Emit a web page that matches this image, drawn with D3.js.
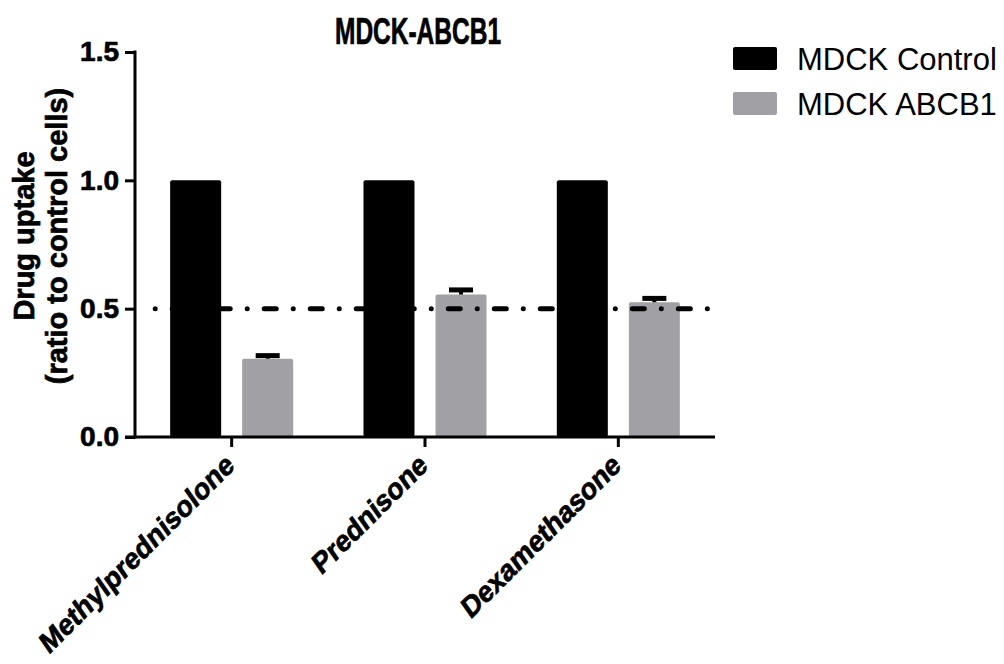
<!DOCTYPE html>
<html>
<head>
<meta charset="utf-8">
<script src="https://cdn.jsdelivr.net/npm/d3@7"></script>
<style>
  body { margin: 0; background: #fff; }
  text { font-family: "Liberation Sans", Arial, Helvetica, sans-serif; fill: #000; }
  .heavy { font-weight: bold; stroke: #000; stroke-width: 0.7px; }
</style>
</head>
<body>
<div id="myChart"></div>
<script>
// data
var drugs = ["Methylprednisolone", "Prednisone", "Dexamethasone"];
var seriesNames = ["MDCK Control", "MDCK ABCB1"];
var controlValues = [1.0, 1.0, 1.0];
var abcb1Values = [0.305, 0.555, 0.525];
var abcb1Errors = [0.012, 0.018, 0.015];
var yTicks = [0.0, 0.5, 1.0, 1.5];
var referenceLevel = 0.5;
var colors = ["#000000", "#a1a1a5"];

var width = 1004, height = 664;
var plot = { left: 135, right: 715, top: 52, bottom: 437 };

var svg = d3.select("#myChart").append("svg")
    .attr("width", width)
    .attr("height", height);

var x = d3.scaleBand().domain(drugs).range([plot.left, plot.right]);
var xInner = d3.scaleBand().domain(seriesNames)
    .range([0, x.bandwidth()])
    .paddingInner(0.2917)
    .paddingOuter(0.488);
var y = d3.scaleLinear().domain([0, 1.5]).range([plot.bottom, plot.top]);

var rows = drugs.map(function (d, i) {
    return { drug: d, values: [controlValues[i], abcb1Values[i]], err: abcb1Errors[i] };
});

// bars
var groups = svg.append("g").selectAll("g")
    .data(rows).join("g")
    .attr("transform", function (d) { return "translate(" + x(d.drug) + ",0)"; });

groups.selectAll("rect")
    .data(function (d) { return d.values.map(function (v, j) { return { s: seriesNames[j], v: v, j: j }; }); })
    .join("rect")
    .attr("x", function (d) { return xInner(d.s); })
    .attr("y", function (d) { return y(d.v); })
    .attr("width", xInner.bandwidth())
    .attr("height", function (d) { return y(0) - y(d.v); })
    .attr("rx", 2)
    .attr("fill", function (d) { return colors[d.j]; });

// error bars (upper only)
var cx = xInner("MDCK ABCB1") + xInner.bandwidth() / 2;
var errG = groups.append("g");
errG.append("line")
    .attr("x1", cx).attr("x2", cx)
    .attr("y1", function (d) { return y(d.values[1]); })
    .attr("y2", function (d) { return y(d.values[1] + d.err); })
    .attr("stroke", "#000").attr("stroke-width", 4);
errG.append("line")
    .attr("x1", cx - 12).attr("x2", cx + 12)
    .attr("y1", function (d) { return y(d.values[1] + d.err); })
    .attr("y2", function (d) { return y(d.values[1] + d.err); })
    .attr("stroke", "#000").attr("stroke-width", 5);

// dash-dot reference line
svg.append("line")
    .attr("x1", plot.left + 6)
    .attr("x2", plot.right - 3)
    .attr("y1", y(referenceLevel))
    .attr("y2", y(referenceLevel))
    .attr("stroke", "#000")
    .attr("stroke-width", 5)
    .attr("stroke-linecap", "round")
    .attr("stroke-dasharray", "12 17 0.01 17")
    .attr("stroke-dashoffset", 14.8);

// y axis
var yAxis = d3.axisLeft(y).tickValues(yTicks).tickFormat(d3.format(".1f")).tickSize(10).tickPadding(6);
var gy = svg.append("g")
    .attr("transform", "translate(" + plot.left + ",0)")
    .call(yAxis);
gy.select(".domain").attr("d", "M0," + (plot.top - 1.5) + "V" + (plot.bottom + 1.5))
    .attr("stroke-width", 3).attr("stroke", "#000");
gy.selectAll(".tick line").attr("stroke-width", 3).attr("stroke", "#000");
gy.selectAll(".tick text")
    .attr("class", "heavy")
    .attr("font-size", 28)
    .attr("font-family", "'Liberation Sans', Arial, sans-serif")
    .attr("fill", "#000");

// x axis
var xAxis = d3.axisBottom(x).tickSize(10).tickFormat("");
var gx = svg.append("g")
    .attr("transform", "translate(0," + plot.bottom + ")")
    .call(xAxis);
gx.select(".domain").attr("d", "M" + (plot.left - 10) + ",0H" + plot.right)
    .attr("stroke-width", 3).attr("stroke", "#000");
gx.selectAll(".tick line").attr("stroke-width", 3).attr("stroke", "#000");

gx.selectAll(".tick").append("text")
    .attr("class", "heavy")
    .attr("text-anchor", "end")
    .attr("transform", "translate(4,31) rotate(-45) skewX(-10)")
    .attr("font-size", 28)
    .attr("font-family", "'Liberation Sans', Arial, sans-serif")
    .attr("fill", "#000")
    .text(function (d) { return d; });

// title
svg.append("text")
    .attr("class", "heavy")
    .attr("x", 418)
    .attr("y", 44)
    .attr("text-anchor", "middle")
    .attr("font-size", 36)
    .attr("stroke-width", 1)
    .attr("textLength", 166)
    .attr("lengthAdjust", "spacingAndGlyphs")
    .text("MDCK-ABCB1");

// y axis title
var yTitle = svg.append("text")
    .attr("class", "heavy")
    .attr("transform", "translate(0,236) rotate(-90)")
    .attr("text-anchor", "middle")
    .attr("font-size", 29);
yTitle.append("tspan").attr("x", 0).attr("y", 34).text("Drug uptake");
yTitle.append("tspan").attr("x", 0).attr("y", 67).text("(ratio to control cells)");

// legend
var legend = svg.append("g").selectAll("g")
    .data(seriesNames).join("g")
    .attr("transform", function (d, i) { return "translate(733," + (47 + i * 45) + ")"; });
legend.append("rect")
    .attr("width", 44).attr("height", 23).attr("rx", 2)
    .attr("fill", function (d, i) { return colors[i]; });
legend.append("text")
    .attr("x", 64).attr("y", 23)
    .attr("font-size", 31)
    .text(function (d) { return d; });
</script>
</body>
</html>
